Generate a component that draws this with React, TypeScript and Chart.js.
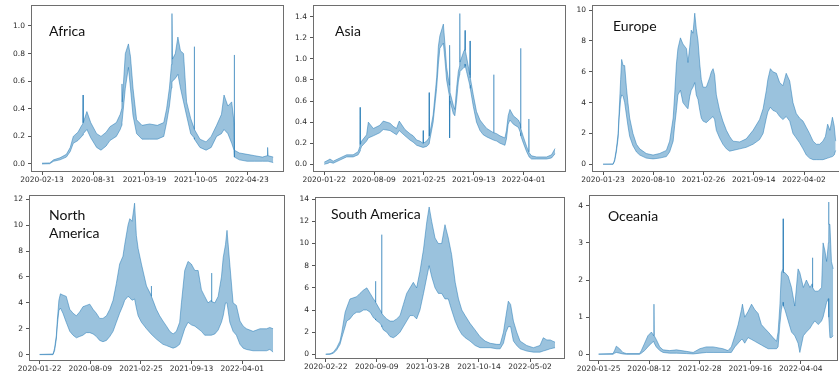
import { useEffect, useRef } from "react";
import { Chart, registerables } from "chart.js";

Chart.register(...registerables);

// ---------------- DATA (day offsets from each panel's first date) ----------------
const xTickDays = [0, 200, 400, 600, 800];

// Africa
const africaXTickLabels = ["2020-02-13", "2020-08-31", "2021-03-19", "2021-10-05", "2022-04-23"];
const africaYTicks = [0, 0.2, 0.4, 0.6, 0.8, 1.0];
const africaYTickLabels = ["0.0", "0.2", "0.4", "0.6", "0.8", "1.0"];
const africaDays = [0, 30, 45, 70, 95, 110, 122, 140, 155, 159, 160, 161, 175, 190, 213, 230, 250, 265, 290, 305, 311, 312, 313, 325, 337, 345, 355, 369, 390, 420, 450, 475, 486, 497, 505, 507, 509, 520, 530, 540, 552, 564, 580, 593, 594, 595, 616, 640, 660, 681, 700, 710, 725, 740, 749, 750, 751, 770, 800, 830, 860, 878, 880, 882, 902];
const africaHigh = [0.006, 0.008, 0.03, 0.045, 0.07, 0.12, 0.2, 0.23, 0.28, 0.29, 0.5, 0.3, 0.38, 0.3, 0.22, 0.2, 0.23, 0.27, 0.3, 0.36, 0.4, 0.58, 0.45, 0.8, 0.87, 0.78, 0.55, 0.32, 0.28, 0.29, 0.28, 0.3, 0.4, 0.55, 0.72, 1.09, 0.76, 0.8, 0.92, 0.82, 0.8, 0.45, 0.33, 0.26, 0.85, 0.25, 0.18, 0.16, 0.2, 0.28, 0.36, 0.5, 0.42, 0.45, 0.3, 0.79, 0.1, 0.08, 0.07, 0.06, 0.05, 0.06, 0.12, 0.06, 0.05];
const africaLow = [0.0, 0.002, 0.02, 0.03, 0.05, 0.09, 0.15, 0.17, 0.2, 0.21, 0.21, 0.22, 0.25, 0.19, 0.12, 0.1, 0.13, 0.17, 0.2, 0.25, 0.28, 0.3, 0.32, 0.55, 0.7, 0.55, 0.35, 0.22, 0.18, 0.18, 0.18, 0.2, 0.3, 0.42, 0.55, 0.6, 0.6, 0.62, 0.65, 0.55, 0.45, 0.35, 0.22, 0.19, 0.19, 0.18, 0.12, 0.1, 0.12, 0.2, 0.22, 0.25, 0.22, 0.15, 0.1, 0.08, 0.05, 0.03, 0.02, 0.02, 0.02, 0.02, 0.02, 0.02, 0.01];

// Asia
const asiaXTickLabels = ["2020-01-22", "2020-08-09", "2021-02-25", "2021-09-13", "2022-04-01"];
const asiaYTicks = [0, 0.2, 0.4, 0.6, 0.8, 1.0, 1.2, 1.4];
const asiaYTickLabels = ["0.0", "0.2", "0.4", "0.6", "0.8", "1.0", "1.2", "1.4"];
const asiaDays = [0, 16, 23, 36, 63, 90, 116, 136, 143, 144, 145, 150, 170, 177, 197, 223, 237, 264, 277, 290, 301, 324, 344, 357, 371, 384, 396, 397, 398, 411, 420, 421, 422, 437, 451, 458, 464, 478, 484, 491, 502, 503, 505, 518, 524, 531, 538, 543, 544, 545, 561, 564, 565, 566, 571, 584, 585, 586, 598, 611, 625, 638, 652, 679, 680, 681, 692, 705, 725, 731, 738, 745, 759, 779, 787, 788, 789, 799, 812, 820, 821, 822, 832, 852, 892, 912, 926];
const asiaHigh = [0.02, 0.04, 0.05, 0.03, 0.06, 0.09, 0.09, 0.12, 0.17, 0.54, 0.19, 0.22, 0.28, 0.4, 0.34, 0.37, 0.41, 0.39, 0.36, 0.34, 0.41, 0.33, 0.29, 0.27, 0.23, 0.22, 0.2, 0.32, 0.2, 0.22, 0.25, 0.68, 0.27, 0.47, 0.82, 1.12, 1.22, 1.33, 1.15, 0.92, 0.75, 1.13, 0.68, 0.56, 0.52, 0.72, 0.88, 0.93, 1.43, 0.97, 1.08, 1.1, 1.27, 1.08, 1.02, 0.85, 1.17, 0.82, 0.66, 0.5, 0.42, 0.38, 0.34, 0.3, 0.85, 0.3, 0.29, 0.27, 0.25, 0.32, 0.46, 0.52, 0.46, 0.42, 0.38, 1.1, 0.34, 0.26, 0.17, 0.12, 0.43, 0.11, 0.08, 0.07, 0.07, 0.09, 0.15];
const asiaLow = [0.0, 0.01, 0.02, 0.01, 0.04, 0.07, 0.07, 0.09, 0.12, 0.13, 0.14, 0.17, 0.22, 0.25, 0.27, 0.3, 0.33, 0.32, 0.3, 0.28, 0.32, 0.27, 0.23, 0.21, 0.18, 0.17, 0.16, 0.16, 0.16, 0.17, 0.19, 0.2, 0.21, 0.4, 0.72, 0.95, 1.1, 1.15, 1.0, 0.8, 0.65, 0.25, 0.6, 0.48, 0.46, 0.6, 0.78, 0.85, 0.86, 0.88, 0.92, 0.95, 0.95, 0.93, 0.88, 0.75, 0.75, 0.72, 0.55, 0.4, 0.32, 0.28, 0.26, 0.23, 0.23, 0.23, 0.22, 0.2, 0.18, 0.24, 0.38, 0.42, 0.38, 0.35, 0.3, 0.3, 0.27, 0.2, 0.12, 0.08, 0.08, 0.07, 0.05, 0.05, 0.05, 0.06, 0.1];

// Europe
const europeXTickLabels = ["2020-01-23", "2020-08-10", "2021-02-26", "2021-09-14", "2022-04-02"];
const europeYTicks = [0, 2, 4, 6, 8, 10];
const europeYTickLabels = ["0", "2", "4", "6", "8", "10"];
const europeDays = [0, 40, 46, 53, 60, 64, 70, 74, 80, 86, 93, 99, 106, 119, 133, 146, 172, 199, 225, 252, 265, 279, 285, 292, 298, 308, 318, 332, 338, 345, 351, 358, 365, 371, 378, 385, 391, 398, 411, 424, 431, 438, 444, 451, 464, 477, 491, 504, 517, 544, 570, 597, 623, 637, 650, 656, 666, 676, 690, 703, 716, 729, 743, 756, 769, 782, 796, 809, 822, 836, 849, 862, 875, 885, 894, 903, 913, 920, 926];
const europeHigh = [0.01, 0.02, 0.3, 1.0, 2.0, 3.4, 5.5, 6.8, 6.4, 6.4, 5.0, 4.0, 3.0, 2.0, 1.3, 1.0, 0.7, 0.6, 0.7, 0.9, 1.5, 3.0, 4.5, 6.5, 7.5, 8.2, 7.8, 7.5, 6.6, 7.6, 8.7, 8.5, 9.8, 8.8, 8.0, 6.5, 5.5, 5.0, 5.0, 5.6, 6.0, 6.2, 5.8, 4.5, 3.5, 2.8, 2.2, 1.8, 1.5, 1.45, 1.65, 2.2, 2.9, 3.6, 4.8, 5.5, 6.2, 6.0, 5.9, 5.3, 5.1, 5.9, 5.4, 4.0, 3.3, 3.0, 2.8, 2.4, 2.0, 1.5, 1.3, 1.3, 1.5, 1.8, 2.6, 2.2, 3.05, 2.5, 1.5];
const europeLow = [0, 0, 0.2, 0.8, 1.7, 3.0, 4.2, 4.5, 4.4, 4.0, 3.2, 2.5, 1.8, 1.2, 0.8, 0.6, 0.4, 0.35, 0.4, 0.5, 0.8, 1.5, 2.5, 3.5, 4.5, 4.8, 4.0, 3.7, 3.6, 4.4, 4.8, 5.0, 5.3, 4.5, 4.2, 3.5, 3.0, 2.8, 2.7, 2.9, 3.0, 3.1, 2.9, 2.2, 1.7, 1.3, 1.0, 0.85, 0.9, 1.0, 1.1, 1.3, 1.6, 2.0, 3.0, 3.4, 3.7, 3.5, 3.4, 3.1, 2.9, 3.1, 2.8, 2.0, 1.7, 1.4, 1.0, 0.6, 0.4, 0.3, 0.3, 0.3, 0.3, 0.35, 0.4, 0.45, 0.5, 0.6, 0.9];

// North America
const northAmericaXTickLabels = ["2020-01-22", "2020-08-09", "2021-02-25", "2021-09-13", "2022-04-01"];
const northAmericaYTicks = [0, 2, 4, 6, 8, 10, 12];
const northAmericaYTickLabels = ["0", "2", "4", "6", "8", "10", "12"];
const northAmericaDays = [0, 53, 59, 66, 70, 76, 82, 92, 105, 119, 132, 145, 158, 171, 184, 198, 211, 224, 237, 250, 264, 277, 290, 303, 316, 329, 336, 349, 356, 365, 375, 382, 389, 402, 422, 440, 441, 442, 461, 474, 487, 501, 514, 527, 540, 553, 560, 573, 586, 599, 613, 626, 639, 652, 665, 678, 679, 680, 692, 705, 718, 725, 734, 740, 751, 764, 777, 791, 804, 817, 843, 870, 896, 909, 922];
const northAmericaHigh = [0.02, 0.05, 0.5, 1.5, 2.7, 4.2, 4.7, 4.6, 4.5, 3.5, 3.2, 3.0, 3.3, 3.7, 3.8, 3.9, 3.5, 3.2, 2.8, 2.8, 3.0, 3.5, 4.2, 5.5, 7.0, 7.6, 8.5, 10.0, 10.5, 10.3, 11.7, 9.2, 8.2, 7.0, 5.3, 4.6, 5.3, 4.5, 3.5, 3.0, 2.6, 2.2, 1.8, 1.6, 1.8, 2.5, 4.0, 6.5, 7.2, 7.0, 6.5, 6.5, 5.0, 4.5, 4.0, 4.2, 6.3, 4.1, 4.0, 4.5, 6.0, 7.5, 8.5, 9.6, 7.0, 4.0, 3.8, 2.6, 2.2, 2.0, 1.8, 2.0, 2.0, 2.1, 2.0];
const northAmericaLow = [0, 0, 0.3, 1.2, 2.3, 3.4, 3.6, 3.2, 2.5, 1.8, 1.5, 1.3, 1.4, 1.5, 1.7, 1.7, 1.6, 1.4, 1.1, 1.0, 1.1, 1.4, 1.8, 2.5, 3.2, 3.8, 4.2, 4.5, 4.4, 4.2, 4.3, 3.6, 3.0, 2.5, 2.0, 1.6, 1.6, 1.6, 1.2, 1.0, 0.8, 0.7, 0.6, 0.5, 0.6, 0.8, 1.2, 2.0, 2.5, 2.3, 2.2, 2.0, 1.8, 1.5, 1.5, 1.5, 1.5, 1.5, 1.6, 1.9, 2.5, 3.0, 4.0, 4.0, 2.5, 1.8, 1.5, 0.8, 0.5, 0.4, 0.3, 0.3, 0.3, 0.4, 0.2];

// South America
const southAmericaXTickLabels = ["2020-02-22", "2020-09-09", "2021-03-28", "2021-10-14", "2022-05-02"];
const southAmericaYTicks = [0, 2, 4, 6, 8, 10, 12, 14];
const southAmericaYTickLabels = ["0", "2", "4", "6", "8", "10", "12", "14"];
const southAmericaDays = [0, 17, 30, 43, 56, 63, 76, 82, 95, 108, 121, 134, 148, 161, 174, 187, 194, 195, 196, 213, 218, 219, 220, 226, 239, 252, 265, 278, 291, 304, 317, 330, 343, 356, 369, 383, 396, 405, 415, 428, 441, 454, 467, 480, 493, 507, 520, 533, 546, 565, 585, 604, 624, 644, 670, 683, 696, 706, 715, 724, 735, 748, 761, 787, 813, 839, 852, 866, 879, 898];
const southAmericaHigh = [0.02, 0.05, 0.2, 0.6, 1.2, 2.0, 3.8, 4.2, 5.0, 5.1, 5.2, 5.5, 5.8, 6.0, 5.5, 5.0, 4.8, 6.6, 4.7, 4.0, 3.8, 10.8, 3.7, 3.5, 3.2, 3.0, 3.0, 3.2, 3.5, 4.5, 5.5, 6.0, 6.5, 6.0, 7.5, 9.5, 12.0, 13.3, 12.0, 10.5, 10.0, 10.0, 11.7, 10.5, 9.0, 6.5, 5.0, 4.0, 3.5, 2.8, 2.2, 1.6, 1.2, 1.0, 0.9, 0.9, 2.0, 3.5, 4.8, 4.5, 3.0, 2.0, 1.2, 0.8, 0.6, 0.8, 1.5, 1.3, 1.3, 1.1];
const southAmericaLow = [0, 0, 0.1, 0.4, 0.9, 1.5, 2.5, 3.0, 3.2, 3.6, 3.8, 3.8, 4.0, 4.0, 3.8, 3.3, 3.2, 3.2, 3.1, 2.8, 2.6, 2.6, 2.5, 2.2, 2.0, 1.6, 1.5, 1.7, 2.0, 2.5, 3.0, 3.5, 3.5, 3.2, 4.0, 5.5, 7.0, 8.0, 7.0, 6.0, 5.5, 5.5, 5.0, 5.0, 4.0, 3.0, 2.3, 1.8, 1.5, 1.2, 0.8, 0.6, 0.6, 0.6, 0.5, 0.5, 1.0, 2.0, 2.5, 2.5, 1.2, 0.8, 0.5, 0.3, 0.2, 0.2, 0.3, 0.4, 0.5, 0.6];

// Oceania
const oceaniaXTickLabels = ["2020-01-25", "2020-08-12", "2021-02-28", "2021-09-16", "2022-04-04"];
const oceaniaYTicks = [0, 1, 2, 3, 4];
const oceaniaYTickLabels = ["0", "1", "2", "3", "4"];
const oceaniaDays = [0, 57, 63, 70, 83, 96, 110, 162, 169, 182, 195, 209, 218, 219, 220, 228, 242, 255, 281, 308, 347, 374, 400, 426, 453, 492, 512, 525, 539, 552, 565, 569, 578, 591, 605, 618, 631, 644, 657, 671, 690, 704, 710, 717, 723, 729, 730, 731, 737, 750, 763, 776, 789, 796, 810, 822, 836, 845, 846, 847, 855, 869, 882, 888, 895, 902, 909, 910, 911, 915, 921, 928];
const oceaniaHigh = [0.01, 0.02, 0.1, 0.22, 0.15, 0.05, 0.02, 0.02, 0.1, 0.3, 0.5, 0.6, 0.5, 1.35, 0.5, 0.4, 0.2, 0.12, 0.1, 0.12, 0.08, 0.05, 0.15, 0.2, 0.2, 0.15, 0.1, 0.2, 0.5, 0.8, 1.2, 1.35, 1.0, 1.15, 1.35, 1.2, 1.1, 0.8, 0.7, 0.6, 0.45, 0.35, 0.6, 1.3, 2.2, 2.3, 3.65, 2.2, 2.2, 2.1, 1.8, 1.3, 2.3, 2.2, 1.8, 2.0, 1.8, 1.9, 2.6, 1.8, 1.7, 1.7, 1.8, 3.0, 2.8, 2.5, 3.0, 4.1, 3.5, 3.5, 2.5, 2.3];
const oceaniaLow = [0, 0, 0.03, 0.05, 0.03, 0.01, 0, 0, 0.03, 0.1, 0.2, 0.3, 0.35, 0.35, 0.3, 0.2, 0.1, 0.05, 0.03, 0.03, 0.02, 0.01, 0.03, 0.05, 0.05, 0.05, 0.05, 0.05, 0.2, 0.3, 0.4, 0.4, 0.3, 0.45, 0.4, 0.35, 0.3, 0.25, 0.2, 0.15, 0.15, 0.15, 0.2, 0.8, 1.2, 1.4, 1.4, 1.3, 1.2, 0.9, 0.6, 0.5, 0.3, 0.05, 0.5, 0.6, 0.7, 0.8, 0.8, 0.8, 0.9, 0.8, 0.9, 1.0, 1.2, 1.4, 1.5, 1.5, 1.0, 0.45, 0.45, 0.5];

// ---------------- LAYOUT ----------------
const Y_AXIS_W = 30;
const X_AXIS_H = 16;
const PAD_TOP = 4;
const PAD_RIGHT = 2;

type PanelSpec = {
  title: string[];
  titleLeft: number;
  titleTop: number;
  box: { left: number; top: number; right: number; bottom: number };
  xMin: number;
  xMax: number;
  yMin: number;
  yMax: number;
  days: number[];
  high: number[];
  low: number[];
  xLabels: string[];
  yTicks: number[];
  yLabels: string[];
};

const panels: PanelSpec[] = [
  {
    title: ["Africa"], titleLeft: 49, titleTop: 22,
    box: { left: 31, top: 5, right: 284, bottom: 172 },
    xMin: -43, xMax: 944, yMin: -0.058, yMax: 1.152,
    days: africaDays, high: africaHigh, low: africaLow,
    xLabels: africaXTickLabels, yTicks: africaYTicks, yLabels: africaYTickLabels,
  },
  {
    title: ["Asia"], titleLeft: 335, titleTop: 22,
    box: { left: 313, top: 5, right: 566, bottom: 172 },
    xMin: -45, xMax: 970, yMin: -0.073, yMax: 1.511,
    days: asiaDays, high: asiaHigh, low: asiaLow,
    xLabels: asiaXTickLabels, yTicks: asiaYTicks, yLabels: asiaYTickLabels,
  },
  {
    title: ["Europe"], titleLeft: 613, titleTop: 16.5,
    box: { left: 592, top: 5, right: 848, bottom: 172 },
    xMin: -44, xMax: 975, yMin: -0.5, yMax: 10.33,
    days: europeDays, high: europeHigh, low: europeLow,
    xLabels: europeXTickLabels, yTicks: europeYTicks, yLabels: europeYTickLabels,
  },
  {
    title: ["North", "America"], titleLeft: 49, titleTop: 205.5,
    box: { left: 29, top: 195, right: 285, bottom: 361 },
    xMin: -42, xMax: 969, yMin: -0.49, yMax: 12.33,
    days: northAmericaDays, high: northAmericaHigh, low: northAmericaLow,
    xLabels: northAmericaXTickLabels, yTicks: northAmericaYTicks, yLabels: northAmericaYTickLabels,
  },
  {
    title: ["South America"], titleLeft: 331, titleTop: 204.5,
    box: { left: 315, top: 197, right: 565, bottom: 359 },
    xMin: -42, xMax: 937, yMin: -0.42, yMax: 14.2,
    days: southAmericaDays, high: southAmericaHigh, low: southAmericaLow,
    xLabels: southAmericaXTickLabels, yTicks: southAmericaYTicks, yLabels: southAmericaYTickLabels,
  },
  {
    title: ["Oceania"], titleLeft: 608, titleTop: 206.5,
    box: { left: 589, top: 195, right: 838, bottom: 361 },
    xMin: -38, xMax: 947, yMin: -0.18, yMax: 4.29,
    days: oceaniaDays, high: oceaniaHigh, low: oceaniaLow,
    xLabels: oceaniaXTickLabels, yTicks: oceaniaYTicks, yLabels: oceaniaYTickLabels,
  },
];

const tickFont = { family: "DejaVu Sans", size: 7.5 };
const tickColor = "#2a2a2a";
const lineColor = "rgba(31,119,180,0.62)";
const bandColor = "rgba(31,119,180,0.45)";

const frame = {
  id: "frame",
  afterDatasetsDraw(chart: any) {
    const { ctx, chartArea } = chart;
    ctx.save();
    ctx.strokeStyle = "#6e6e6e";
    ctx.lineWidth = 1;
    ctx.strokeRect(
      Math.round(chartArea.left) + 0.5,
      Math.round(chartArea.top) + 0.5,
      Math.round(chartArea.right - chartArea.left) - 1,
      Math.round(chartArea.bottom - chartArea.top) - 1
    );
    ctx.restore();
  },
};

function Panel({ spec }: { spec: PanelSpec }) {
  const ref = useRef<HTMLCanvasElement | null>(null);
  const w = Y_AXIS_W + (spec.box.right - spec.box.left) + PAD_RIGHT;
  const h = PAD_TOP + (spec.box.bottom - spec.box.top) + X_AXIS_H;

  useEffect(() => {
    if (!ref.current) return;
    const highPts = spec.days.map((d, i) => ({ x: d, y: spec.high[i] }));
    const lowPts = spec.days.map((d, i) => ({ x: d, y: spec.low[i] }));
    const chart = new Chart(ref.current, {
      type: "line",
      data: {
        datasets: [
          { data: highPts, borderColor: lineColor, borderWidth: 0.8, pointRadius: 0, fill: false, tension: 0 },
          { data: lowPts, borderColor: lineColor, borderWidth: 0.8, pointRadius: 0, fill: "-1", backgroundColor: bandColor, tension: 0 },
        ],
      },
      options: {
        animation: false,
        responsive: false,
        maintainAspectRatio: false,
        devicePixelRatio: 1,
        layout: { padding: { top: PAD_TOP, right: PAD_RIGHT, left: 0, bottom: 0 } },
        plugins: { legend: { display: false }, tooltip: { enabled: false }, title: { display: false } },
        scales: {
          x: {
            type: "linear",
            min: spec.xMin,
            max: spec.xMax,
            afterBuildTicks: (s: any) => { s.ticks = xTickDays.map((v) => ({ value: v })); },
            afterFit: (s: any) => { s.height = X_AXIS_H; s.paddingLeft = 0; s.paddingRight = 0; },
            ticks: {
              autoSkip: false, maxRotation: 0, minRotation: 0, padding: 1,
              font: tickFont, color: tickColor,
              callback: (_v: any, i: number) => spec.xLabels[i],
            },
            grid: { drawOnChartArea: false, drawTicks: true, tickLength: 3, color: "#555" },
            border: { display: false },
          },
          y: {
            type: "linear",
            min: spec.yMin,
            max: spec.yMax,
            afterBuildTicks: (s: any) => { s.ticks = spec.yTicks.map((v) => ({ value: v })); },
            afterFit: (s: any) => { s.width = Y_AXIS_W; s.paddingTop = 0; s.paddingBottom = 0; },
            ticks: {
              autoSkip: false, padding: 3,
              font: tickFont, color: tickColor,
              callback: (_v: any, i: number) => spec.yLabels[i],
            },
            grid: { drawOnChartArea: false, drawTicks: true, tickLength: 3, color: "#555" },
            border: { display: false },
          },
        },
      } as any,
      plugins: [frame],
    });
    return () => chart.destroy();
  }, [spec]);

  return (
    <>
      <canvas
        ref={ref}
        width={w}
        height={h}
        style={{
          position: "absolute",
          left: spec.box.left - Y_AXIS_W,
          top: spec.box.top - PAD_TOP,
          width: w,
          height: h,
        }}
      />
      <div
        style={{
          position: "absolute",
          left: spec.titleLeft,
          top: spec.titleTop,
          fontFamily: "Lato, 'Open Sans', sans-serif",
          fontSize: 14,
          lineHeight: "18.3px",
          color: "#111",
          whiteSpace: "nowrap",
        }}
      >
        {spec.title.map((t, i) => (
          <div key={i}>{t}</div>
        ))}
      </div>
    </>
  );
}

export default function App() {
  return (
    <div
      style={{
        position: "absolute",
        left: 0,
        top: 0,
        width: 839,
        height: 380,
        overflow: "hidden",
        background: "#fff",
      }}
    >
      {panels.map((p, i) => (
        <Panel key={i} spec={p} />
      ))}
    </div>
  );
}
